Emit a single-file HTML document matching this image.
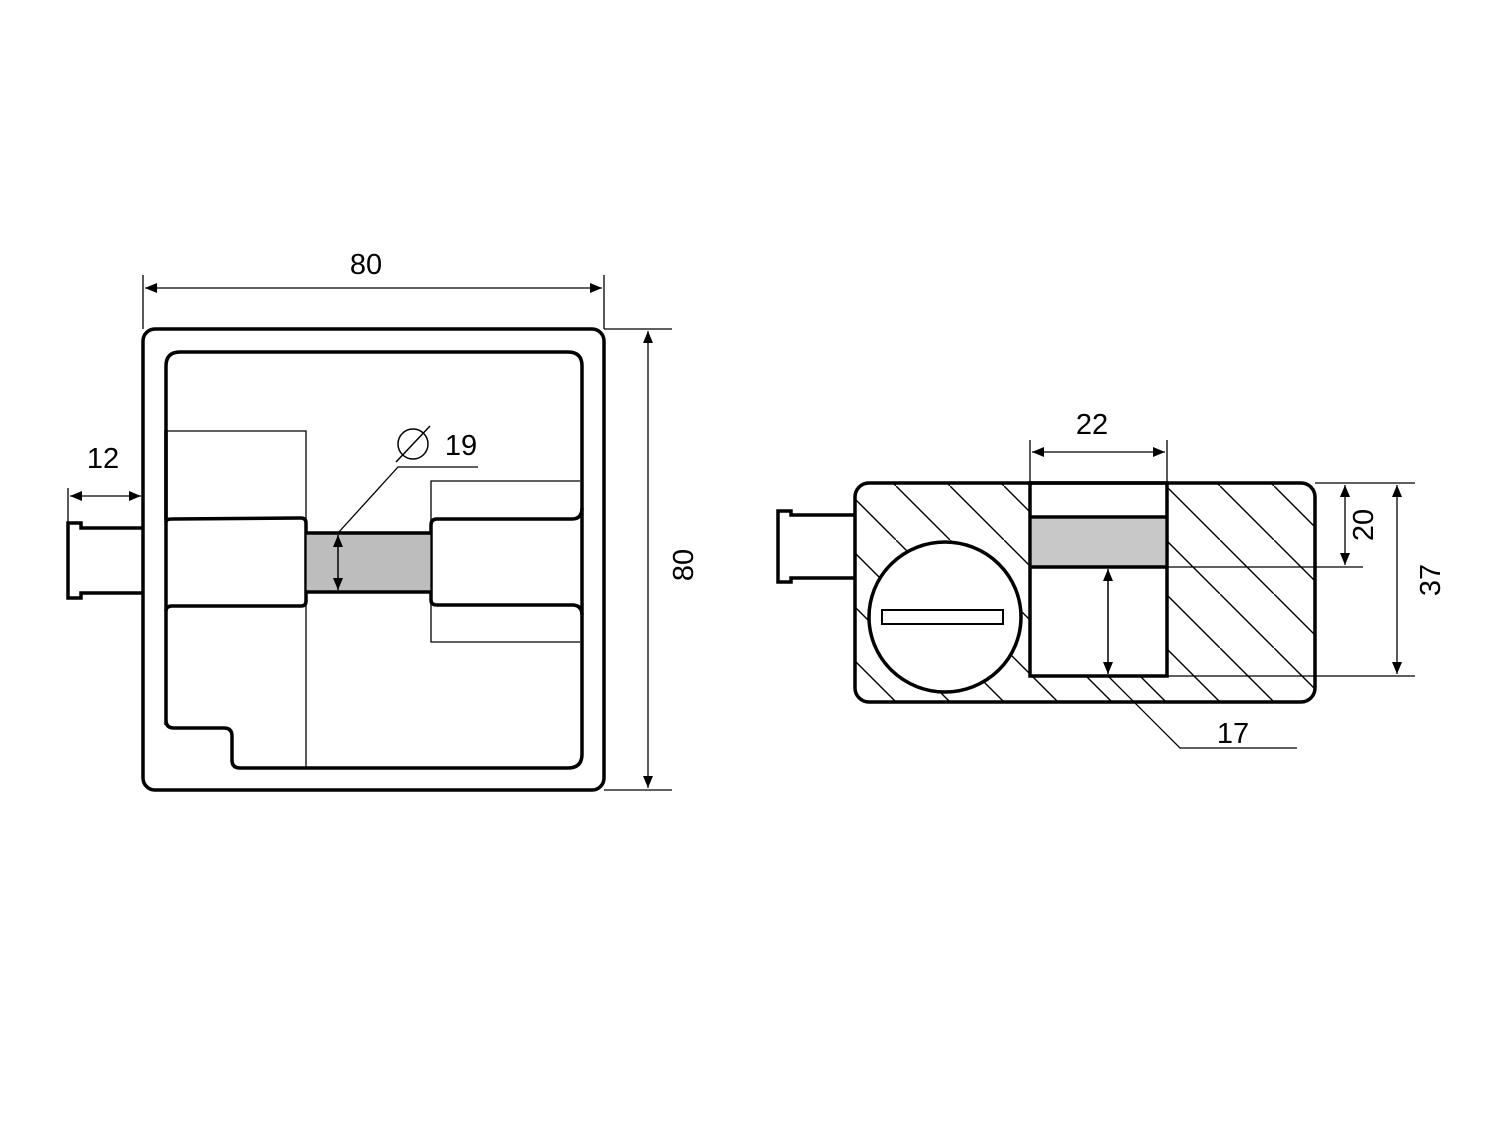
<!DOCTYPE html>
<html><head><meta charset="utf-8"><style>
html,body{margin:0;padding:0;background:#fff;}
svg{display:block;}
text{font-family:"Liberation Sans",Arial,sans-serif;font-size:29px;fill:#000;}
</style></head><body>
<svg width="1500" height="1125" viewBox="0 0 1500 1125" xmlns="http://www.w3.org/2000/svg">
<defs>
<marker id="a" viewBox="0 0 12 10" refX="12" refY="5" markerWidth="12" markerHeight="10" markerUnits="userSpaceOnUse" orient="auto-start-reverse"><path d="M0,0 L12,5 L0,10 Z" fill="#000"/></marker>
<pattern id="h" patternUnits="userSpaceOnUse" x="32" y="0" width="54" height="54"><path d="M-2,-2 L56,56" stroke="#000" stroke-width="1.4"/></pattern>
</defs>
<g fill="none" stroke="#000">
<!-- LEFT VIEW -->
<rect x="143" y="329" width="461" height="461" rx="12" stroke-width="3.5"/>
<path d="M166,725 L166,366 Q166,352 180,352 L568,352 Q582,352 582,366 L582,754 Q582,768 568,768 L240,768 Q232,768 232,760 L232,736 Q232,728 224,728 L174,728 Q166,728 166,720" stroke-width="3.5"/>
<path d="M166,430 L166,520" stroke-width="3.5"/>
<!-- left block -->
<path d="M166,522 Q166,519 172,519 L301,518 Q306,518 306,523 L306,601 Q306,606 301,606 L172,606 Q166,606 166,611" stroke-width="3.5"/>
<!-- right block -->
<path d="M582,508 Q582,519 572,519 L437,519 Q431,519 431,525 L431,600 Q431,605 437,605 L572,605 Q582,605 582,615" stroke-width="3.5"/>
<!-- gray bar -->
<rect x="306" y="533" width="125" height="59" fill="#bdbdbd" stroke="none"/>
<path d="M306,533 L431,533 M306,592 L431,592" stroke-width="3.5"/>
<!-- thin lines -->
<path d="M166,431 L306,431 L306,768" stroke-width="1.3"/>
<path d="M580,481 L431,481 L431,642 L580,642" stroke-width="1.3"/>
<!-- connector -->
<path d="M143,528 L81,528 L81,523 L68,523 L68,598 L81,598 L81,593 L143,593" stroke-width="3.5"/>
<!-- dims -->
<path d="M68,488 L68,523" stroke-width="1.3"/>
<path d="M70,496 L141,496" stroke-width="1.3" marker-start="url(#a)" marker-end="url(#a)"/>
<path d="M143,275 L143,329 M604,275 L604,329" stroke-width="1.3"/>
<path d="M145,288 L602,288" stroke-width="1.3" marker-start="url(#a)" marker-end="url(#a)"/>
<path d="M604,329 L672,329 M604,790 L672,790" stroke-width="1.3"/>
<path d="M648,331 L648,788" stroke-width="1.3" marker-start="url(#a)" marker-end="url(#a)"/>
<path d="M338,535 L338,590" stroke-width="1.5" marker-start="url(#a)" marker-end="url(#a)"/>
<path d="M338,533 L398,467 L478,467" stroke-width="1.3"/>
<circle cx="413" cy="444" r="15" stroke-width="1.5"/>
<path d="M396,462 L430,426" stroke-width="1.5"/>

<!-- RIGHT VIEW -->
<rect x="855" y="483" width="460" height="219" rx="14" fill="url(#h)" stroke="none"/>
<ellipse cx="945" cy="617" rx="76" ry="75" fill="#fff" stroke-width="3.5"/>
<rect x="882" y="610" width="121" height="14" fill="#fff" stroke-width="2"/>
<rect x="1030" y="483" width="137" height="193" fill="#fff" stroke-width="3.5"/>
<rect x="1032" y="519" width="133" height="47" fill="#c8c8c8" stroke="none"/>
<path d="M1030,517 L1167,517 M1030,567 L1167,567" stroke-width="3.5"/>
<rect x="855" y="483" width="460" height="219" rx="14" stroke-width="3.5"/>
<path d="M855,515 L791,515 L791,511 L778,511 L778,582 L791,582 L791,578 L855,578" stroke-width="3.5"/>
<path d="M1108,569 L1108,674" stroke-width="1.5" marker-start="url(#a)" marker-end="url(#a)"/>
<path d="M1108,676 L1180,748 L1297,748" stroke-width="1.3"/>
<path d="M1030,440 L1030,483 M1167,440 L1167,483" stroke-width="1.3"/>
<path d="M1032,452 L1165,452" stroke-width="1.3" marker-start="url(#a)" marker-end="url(#a)"/>
<path d="M1315,483 L1415,483 M1167,567 L1363,567 M1167,676 L1415,676" stroke-width="1.3"/>
<path d="M1345,485 L1345,565" stroke-width="1.3" marker-start="url(#a)" marker-end="url(#a)"/>
<path d="M1397,485 L1397,674" stroke-width="1.3" marker-start="url(#a)" marker-end="url(#a)"/>
</g>
<text x="366" y="274" text-anchor="middle">80</text>
<text x="103" y="468" text-anchor="middle">12</text>
<text x="461" y="455" text-anchor="middle">19</text>
<text transform="translate(693,565) rotate(-90)" text-anchor="middle">80</text>
<text x="1092" y="434" text-anchor="middle">22</text>
<text x="1233" y="743" text-anchor="middle">17</text>
<text transform="translate(1373,525) rotate(-90)" text-anchor="middle">20</text>
<text transform="translate(1440,580) rotate(-90)" text-anchor="middle">37</text>
</svg>
</body></html>
